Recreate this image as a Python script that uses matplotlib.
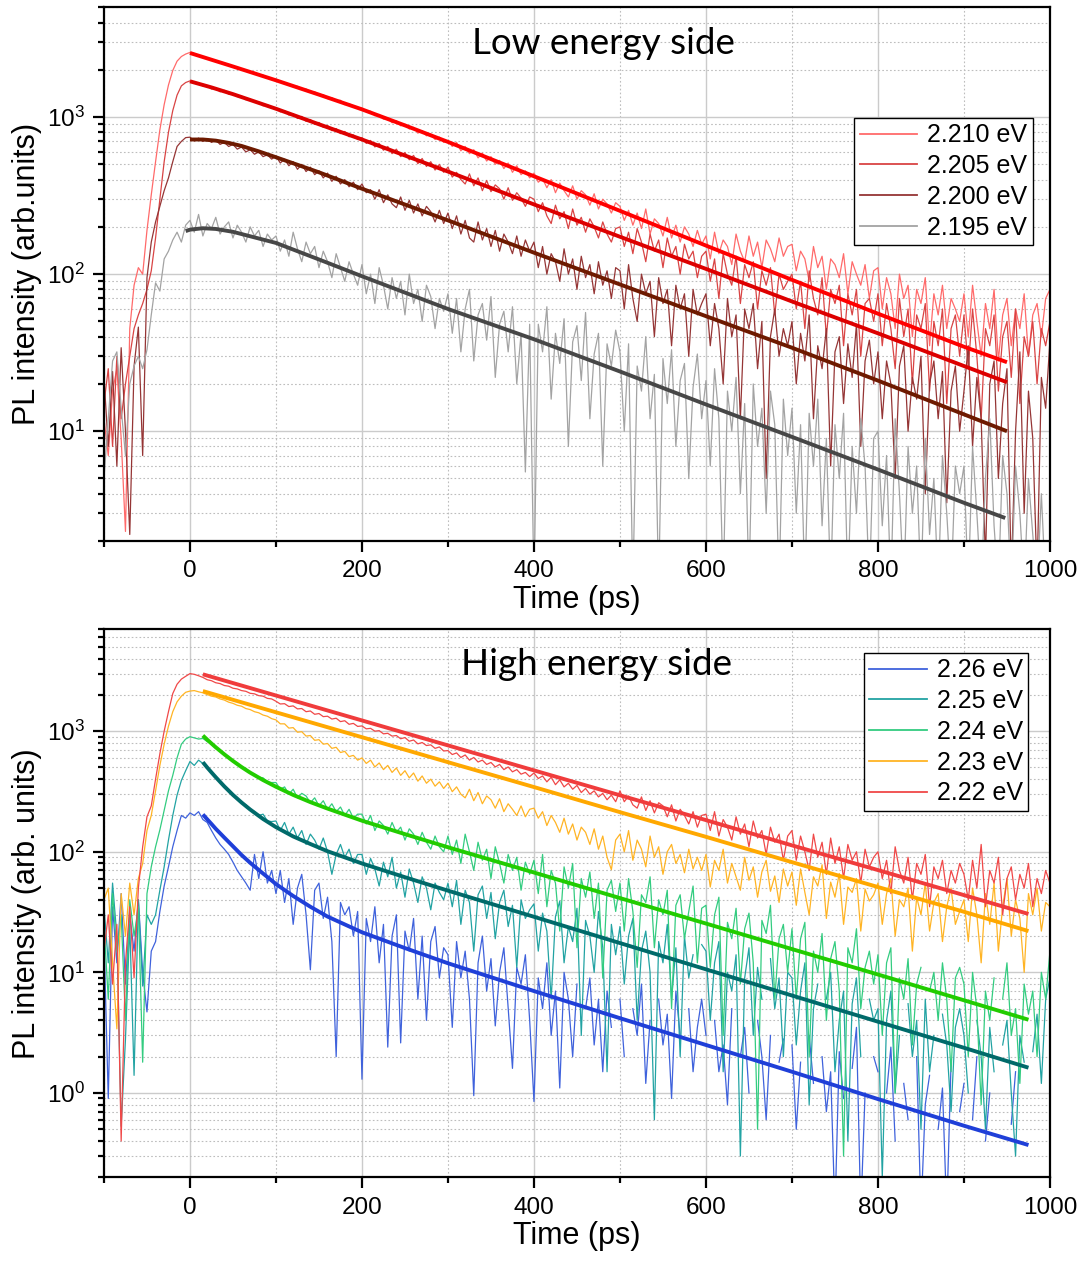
import numpy as np
import matplotlib
matplotlib.use('Agg')
import matplotlib.pyplot as plt
from matplotlib.ticker import MultipleLocator, LogLocator, NullFormatter

plt.rcParams['font.family'] = ['Liberation Sans', 'DejaVu Sans']
plt.rcParams['mathtext.default'] = 'regular'

# time grid of the measured traces (ps), 5 ps per point, -100 ... 1000
t = np.arange(-100, 1001, 5)

# ---------------- low energy side: measured PL traces ----------------
# one row = 100 ps (20 points), last value is t = 1000 ps
pl_2210 = [
    12, 7, 18, 25, 9, 2.3, 45, 85, 110, 100, 190, 320, 520, 830, 1200, 1600, 1980, 2270, 2430, 2520,
    2580, 2540, 2470, 2430, 2350, 2340, 2260, 2250, 2170, 2170, 2090, 2080, 2000, 2000, 1920, 1930, 1850, 1850, 1790, 1760,
    1740, 1690, 1660, 1620, 1560, 1570, 1500, 1510, 1440, 1450, 1380, 1390, 1310, 1330, 1270, 1280, 1200, 1220, 1160, 1150,
    1140, 1080, 1090, 1020, 1040, 970, 990, 920, 950, 880, 900, 840, 860, 790, 820, 760, 780, 720, 745, 690,
    710, 650, 690, 610, 650, 585, 620, 550, 590, 525, 560, 500, 530, 470, 510, 445, 490, 430, 455, 410,
    440, 385, 405, 355, 400, 330, 380, 340, 310, 365, 300, 340, 320, 275, 325, 260, 300, 280, 245, 285,
    270, 220, 255, 205, 245, 195, 260, 180, 225, 210, 175, 230, 170, 205, 160, 200, 180, 150, 190, 155,
    175, 125, 185, 135, 165, 150, 115, 180, 140, 120, 175, 130, 160, 110, 165, 145, 120, 170, 130, 150,
    155, 105, 140, 125, 90, 150, 110, 130, 80, 125, 115, 95, 135, 75, 120, 100, 85, 115, 70, 105,
    110, 60, 95, 75, 45, 100, 70, 85, 40, 80, 65, 95, 35, 75, 55, 85, 45, 70, 60, 50,
    75, 40, 85, 50, 30, 65, 45, 80, 28, 55, 70, 35, 60, 45, 75, 30, 55, 65, 40, 70,
    80]
pl_2205 = [
    15, 25, 8, 30, 12, 20, 30, 45, 55, 65, 80, 105, 170, 300, 520, 800, 1100, 1380, 1580, 1660,
    1700, 1670, 1640, 1580, 1590, 1510, 1530, 1450, 1480, 1400, 1410, 1350, 1360, 1290, 1300, 1240, 1250, 1180, 1200, 1140,
    1150, 1080, 1100, 1030, 1050, 980, 1010, 940, 965, 900, 925, 860, 885, 820, 845, 785, 810, 750, 770, 720,
    740, 680, 710, 645, 680, 615, 650, 585, 625, 560, 595, 535, 570, 505, 545, 485, 520, 460, 500, 445,
    480, 415, 445, 400, 375, 435, 365, 410, 340, 395, 335, 370, 350, 300, 355, 295, 330, 305, 270, 310,
    300, 250, 285, 235, 210, 275, 225, 250, 195, 260, 205, 230, 185, 225, 200, 170, 215, 180, 160, 195,
    200, 150, 185, 135, 195, 160, 120, 180, 140, 165, 110, 170, 130, 150, 100, 155, 125, 140, 95, 130,
    140, 90, 125, 70, 135, 100, 85, 130, 65, 115, 95, 120, 60, 105, 85, 110, 55, 100, 80, 90,
    100, 60, 90, 45, 105, 70, 55, 95, 40, 80, 65, 85, 35, 75, 55, 80, 30, 65, 70, 50,
    75, 35, 65, 45, 25, 70, 40, 60, 20, 55, 45, 65, 18, 50, 35, 60, 15, 45, 55, 30,
    55, 25, 60, 30, 12, 45, 35, 55, 18, 40, 50, 22, 60, 15, 40, 30, 50, 20, 45, 35,
    50]
pl_2200 = [
    22, 8, 24, 6, 34, 10, 2.2, 26, 46, 7, 95, 160, 215, 270, 340, 410, 520, 650, 700, 740,
    745, 705, 735, 700, 730, 690, 715, 670, 690, 650, 670, 625, 645, 600, 620, 580, 600, 560, 575, 540,
    565, 510, 540, 490, 520, 465, 500, 450, 480, 430, 455, 410, 440, 390, 420, 375, 400, 360, 385, 345,
    375, 330, 345, 300, 345, 285, 320, 280, 265, 310, 255, 295, 245, 280, 235, 270, 250, 215, 255, 210,
    245, 195, 235, 180, 220, 170, 160, 215, 165, 195, 150, 190, 140, 180, 160, 135, 175, 130, 165, 140,
    160, 110, 150, 100, 135, 120, 90, 145, 100, 125, 80, 130, 95, 115, 75, 120, 85, 105, 70, 110,
    105, 60, 115, 70, 50, 100, 75, 90, 40, 95, 65, 80, 35, 85, 60, 75, 30, 80, 55, 65,
    75, 35, 65, 45, 20, 70, 40, 55, 12, 60, 45, 65, 25, 50, 5, 40, 60, 30, 45, 35,
    50, 20, 42, 28, 55, 12, 35, 25, 45, 6, 32, 40, 15, 36, 22, 48, 8, 28, 38, 20,
    32, 12, 28, 20, 5, 26, 35, 10, 22, 16, 30, 4, 20, 28, 12, 24, 3.5, 18, 26, 10,
    18, 35, 8, 22, 12, 1.5, 20, 28, 5, 15, 25, 1.2, 10, 32, 3, 18, 9, 1.2, 22, 14,
    38]
pl_2195 = [
    5, 12, 28, 32, 14, 7, 20, 26, 30, 25, 33, 55, 88, 78, 125, 140, 165, 185, 160, 205,
    220, 185, 240, 175, 210, 195, 230, 180, 200, 215, 170, 205, 185, 160, 200, 175, 190, 150, 180, 165,
    175, 140, 165, 130, 185, 145, 120, 160, 135, 150, 110, 140, 120, 95, 135, 110, 90, 120, 100, 85,
    115, 75, 100, 65, 110, 85, 60, 95, 70, 90, 55, 100, 65, 80, 50, 85, 72, 45, 70, 58,
    75, 42, 70, 32, 60, 80, 28, 55, 65, 38, 72, 22, 48, 58, 32, 62, 20, 42, 5.5, 48,
    1, 48, 32, 62, 16, 42, 27, 52, 8, 37, 47, 21, 57, 12, 31, 42, 6, 36, 26, 44,
    32, 10, 36, 1, 26, 18, 40, 12, 23, 1, 29, 15, 33, 8, 21, 27, 5, 19, 31, 12,
    21, 6, 25, 12, 1, 18, 10, 22, 4, 15, 1, 20, 8, 14, 3, 18, 11, 1, 16, 7,
    14, 3, 11, 1, 13, 6, 16, 2.5, 9, 1, 11, 5, 13, 1, 8, 3, 12, 6, 1, 9,
    10, 2.5, 7, 1, 12, 4, 1, 8, 3, 6, 1, 9, 2.2, 5, 1, 7, 3, 1, 6, 4,
    6, 1, 8, 3, 1, 5, 12, 2.5, 1, 7, 4, 1, 6, 3, 1, 5, 2.2, 1, 4, 1,
    1]

# fitted decays (low energy side)
fit_t_2210 = [0, 50, 100, 150, 200, 250, 300, 400, 500, 600, 700, 800, 900, 950]
fit_2210 = [2560, 2100, 1715, 1390, 1120, 885, 695, 420, 253, 152, 92, 56, 34.5, 27.5]
fit_t_2205 = [0, 25, 50, 100, 150, 200, 300, 400, 500, 600, 700, 800, 900, 950]
fit_2205 = [1690, 1545, 1400, 1130, 900, 720, 450, 278, 173, 108, 67, 42, 26, 20.5]
fit_t_2200 = [0, 15, 30, 45, 60, 80, 100, 150, 200, 300, 400, 500, 600, 700, 800, 900, 950]
fit_2200 = [720, 720, 708, 685, 655, 605, 555, 445, 350, 220, 137, 86, 54, 34, 21, 12.8, 10]
fit_t_2195 = [-5, 0, 15, 30, 50, 100, 150, 200, 300, 400, 500, 600, 700, 800, 900, 948]
fit_2195 = [188, 192, 196, 194, 186, 158, 124, 97, 60, 38.5, 24, 14.8, 9.2, 5.7, 3.5, 2.8]

# ---------------- high energy side: measured PL traces ----------------
pl_226 = [
    20, 0.9, 35, 12, 45, 8, 30, 15, 40, 10, 4.7, 15, 18, 32, 52, 75, 110, 150, 200, 190,
    210, 200, 215, 185, 175, 150, 130, 115, 105, 95, 82, 70, 62, 55, 48, 95, 60, 100, 55, 70,
    45, 70, 38, 60, 25, 50, 65, 30, 10.5, 48, 55, 28, 42, 18, 2, 38, 30, 35, 20, 32,
    1.3, 28, 18, 35, 12, 25, 2.4, 20, 30, 2.6, 22, 15, 28, 6, 20, 4, 18, 24, 9, 16,
    14, 3.5, 18, 9, 15, 6, 0.95, 12, 20, 7, 13, 3.6, 10, 16, 5, 1.6, 11, 8, 14, 4,
    0.85, 9, 5, 12, 3, 7, 1.1, 10, 6, 2, 8, 0, 5, 9, 2.5, 6, 1.5, 7, 3.5, 0,
    6, 2, 0, 5, 3, 8, 1.2, 4, 0, 6, 2.5, 4.5, 0.9, 7, 3, 0, 5, 1.5, 3.5, 6,
    3, 0, 4, 1.5, 2.5, 0.8, 5, 0, 2, 3.5, 1, 0, 4, 2, 0.6, 3, 0, 1.8, 2.8, 0,
    2.5, 0.5, 1.8, 0, 3, 1.2, 0, 2, 0.7, 1.5, 0.1, 2.2, 0.9, 0, 1.6, 3.5, 0.1, 1, 0, 2,
    1.5, 0, 1, 2.4, 0.4, 0, 1.2, 0.6, 0, 2, 0.1, 0.8, 1.4, 0, 0.5, 1.1, 0.1, 1.8, 0, 0.7,
    1.2, 0, 0.6, 2, 0, 0.4, 1, 0, 0, 0.8, 0, 0.55, 1.5, 0, 0, 0.6, 0, 1.2, 0, 0,
    0]
pl_225 = [
    35, 12, 55, 20, 0.53, 2.8, 25, 1.4, 40, 7.7, 30, 25, 30, 48, 75, 125, 200, 295, 390, 470,
    560, 520, 575, 540, 500, 450, 415, 380, 350, 330, 300, 280, 255, 245, 225, 215, 200, 205, 180, 178,
    180, 150, 175, 140, 160, 130, 150, 115, 140, 125, 105, 130, 100, 65, 95, 115, 90, 105, 80, 95,
    95, 65, 88, 72, 52, 82, 62, 90, 50, 68, 42, 72, 55, 38, 62, 50, 33, 55, 46, 40,
    55, 35, 58, 25, 48, 38, 15, 44, 52, 28, 46, 19, 38, 48, 24, 36, 11, 40, 28, 33,
    37, 15, 31, 22, 6, 29, 39, 12, 24, 18, 34, 3, 27, 20, 10, 32, 16, 1.5, 25, 14,
    24, 8, 20, 28, 4, 15, 22, 10, 0.6, 18, 12, 25, 6, 16, 2, 20, 9, 14, 0, 17,
    15, 4, 12, 18, 1.5, 10, 7, 14, 0.3, 9, 16, 3, 11, 6, 0, 13, 5, 9, 2, 10,
    9, 2.5, 7, 12, 0.8, 5, 8, 0, 6, 10, 1.5, 4, 7, 0.4, 5.5, 9, 2, 0, 6, 4,
    5, 0.2, 4, 7, 1, 3, 0, 5.5, 2, 4, 0.5, 6, 1.5, 3, 0, 4.5, 2.5, 0.7, 3.5, 5,
    3, 1, 0, 4, 2, 0.5, 3.5, 1.5, 0, 2.5, 4, 1, 0.3, 3, 1.8, 0, 2.2, 4.5, 1.2, 6,
    9]
pl_224 = [
    25, 6, 45, 15, 30, 4, 40, 20, 35, 1.8, 45, 75, 110, 152, 220, 320, 430, 600, 780, 860,
    900, 880, 860, 870, 820, 780, 720, 690, 640, 615, 570, 545, 500, 490, 450, 440, 415, 410, 380, 375,
    375, 330, 345, 300, 330, 280, 305, 290, 255, 280, 240, 265, 225, 250, 215, 235, 200, 225, 190, 205,
    205, 170, 200, 150, 180, 165, 140, 175, 145, 160, 125, 155, 140, 115, 145, 120, 105, 135, 110, 100,
    135, 95, 125, 80, 140, 100, 70, 120, 85, 105, 60, 110, 80, 55, 95, 70, 90, 48, 82, 65,
    85, 45, 95, 35, 70, 55, 22, 75, 50, 80, 16, 60, 42, 68, 28, 55, 9, 48, 58, 32,
    55, 22, 60, 32, 11, 44, 38, 62, 16, 40, 30, 48, 5, 36, 44, 19, 32, 52, 12, 34,
    36, 11, 30, 42, 3, 26, 19, 34, 8, 23, 31, 12, 0.5, 27, 21, 36, 6, 19, 25, 10,
    23, 6, 19, 26, 2, 15, 10, 21, 4, 13, 18, 7, 0.3, 16, 12, 23, 5, 11, 15, 8,
    14, 3, 12, 16, 1, 9, 6, 13, 2.5, 8, 11, 0, 7, 10, 4, 12, 6, 1.5, 9, 11,
    8, 2, 10, 5, 0.8, 7, 4, 9, 0, 6, 12, 3, 5, 1.2, 8, 4.5, 7, 2, 10, 6,
    15]
pl_223 = [
    40, 50, 12, 3.4, 45, 20, 55, 30, 60, 80, 150, 200, 320, 520, 780, 1100, 1450, 1750, 1950, 2100,
    2150, 2170, 2120, 2080, 2010, 1950, 1920, 1850, 1810, 1740, 1700, 1640, 1610, 1540, 1510, 1450, 1420, 1360, 1330, 1270,
    1240, 1150, 1150, 1060, 1070, 980, 990, 910, 920, 840, 850, 780, 790, 720, 735, 665, 680, 615, 630, 575,
    600, 540, 575, 505, 545, 480, 520, 455, 495, 430, 470, 410, 450, 385, 425, 370, 400, 350, 380, 335,
    370, 315, 345, 300, 280, 330, 265, 310, 250, 290, 270, 230, 275, 215, 250, 225, 200, 240, 195, 225,
    230, 190, 215, 165, 200, 175, 145, 190, 140, 170, 125, 160, 145, 115, 155, 105, 135, 90, 71, 125,
    140, 100, 150, 85, 125, 105, 75, 135, 90, 110, 65, 100, 115, 80, 95, 67, 105, 72, 90, 70,
    95, 51, 85, 70, 105, 55, 80, 62, 48, 90, 58, 75, 42, 68, 85, 47, 63, 38, 72, 52,
    68, 36, 72, 46, 30, 62, 52, 78, 28, 56, 42, 66, 25, 51, 46, 60, 22, 49, 39, 44,
    55, 25, 45, 60, 20, 40, 35, 50, 15, 42, 30, 55, 22, 38, 45, 18, 35, 50, 25, 32,
    40, 18, 50, 30, 12, 45, 25, 55, 15, 35, 60, 20, 40, 28, 10, 45, 30, 50, 22, 38,
    35]
pl_222 = [
    15, 30, 8, 25, 0.4, 12, 35, 9, 50, 110, 195, 240, 400, 650, 1000, 1450, 2050, 2450, 2700, 2850,
    3000, 2960, 2880, 2790, 2670, 2620, 2520, 2480, 2390, 2360, 2270, 2240, 2170, 2140, 2060, 2040, 1970, 1950, 1870, 1850,
    1770, 1680, 1690, 1600, 1620, 1530, 1540, 1450, 1470, 1380, 1400, 1320, 1330, 1260, 1280, 1200, 1220, 1140, 1160, 1095,
    1105, 1045, 1055, 1000, 1010, 950, 960, 910, 920, 865, 885, 825, 845, 785, 805, 760, 770, 720, 740, 685,
    690, 640, 660, 605, 635, 575, 605, 555, 575, 530, 550, 505, 530, 480, 505, 460, 480, 440, 455, 420,
    450, 405, 425, 380, 415, 360, 395, 345, 370, 330, 355, 310, 335, 300, 320, 285, 305, 270, 295, 260,
    320, 260, 290, 245, 230, 285, 220, 265, 210, 255, 240, 195, 245, 180, 225, 200, 170, 215, 160, 200,
    205, 150, 215, 135, 185, 160, 125, 195, 140, 170, 110, 180, 130, 150, 95, 160, 120, 140, 85, 135,
    150, 85, 135, 100, 70, 140, 90, 120, 65, 130, 80, 110, 60, 115, 85, 100, 55, 105, 75, 90,
    100, 60, 85, 45, 110, 70, 55, 90, 40, 80, 65, 95, 35, 75, 60, 85, 45, 70, 55, 80,
    65, 40, 85, 50, 115, 35, 70, 55, 90, 30, 60, 75, 40, 65, 50, 80, 35, 60, 45, 70,
    55]

# fitted decays (high energy side)
fit_t_222 = [15, 100, 200, 300, 400, 500, 600, 700, 800, 900, 975]
fit_222 = [2960, 1975, 1227, 762, 473, 294, 183, 113, 70.5, 43.7, 30.5]
fit_t_223 = [15, 100, 200, 300, 400, 500, 600, 700, 800, 900, 975]
fit_223 = [2150, 1434, 891, 553, 344, 213, 133, 82, 51, 31.8, 22]
fit_t_224 = [15, 20, 25, 30, 40, 50, 60, 70, 85, 100, 120, 140, 160, 200, 250, 300, 400, 500, 600, 700, 800, 900, 975]
fit_224 = [920, 851, 790, 735, 642, 566, 504, 453, 393, 346, 296, 258, 228, 181, 140, 109, 67.3, 41.3, 25.4, 15.6, 9.6, 5.87, 4.05]
fit_t_225 = [15, 20, 25, 30, 40, 50, 60, 70, 85, 100, 120, 140, 160, 200, 250, 300, 400, 500, 600, 700, 800, 900, 975]
fit_225 = [553, 500, 455, 415, 348, 296, 256, 224, 187, 160, 134, 116, 101, 80, 61.5, 47.6, 28.9, 17.5, 10.6, 6.43, 3.9, 2.37, 1.62]
fit_t_226 = [15, 20, 25, 30, 40, 50, 60, 70, 85, 100, 120, 140, 160, 200, 250, 300, 400, 500, 600, 700, 800, 900, 975]
fit_226 = [204, 186, 170, 155, 131, 111, 94, 81, 66, 54, 43, 35, 29, 21.5, 15.9, 11.9, 7.0, 4.17, 2.5, 1.5, 0.89, 0.535, 0.37]


def style_axes(ax, ylo, yhi, ylabel):
    ax.set_yscale('log', nonpositive='mask')
    ax.set_xlim(-100, 1000)
    ax.set_ylim(ylo, yhi)
    ax.xaxis.set_major_locator(MultipleLocator(200))
    ax.xaxis.set_minor_locator(MultipleLocator(100))
    ax.yaxis.set_major_locator(LogLocator(base=10))
    ax.yaxis.set_minor_locator(LogLocator(base=10, subs=np.arange(2, 10)))
    ax.yaxis.set_minor_formatter(NullFormatter())
    ax.grid(True, which='major', color='#cbcbcb', lw=1.0, ls='-')
    ax.grid(True, which='minor', color='#bdbdbd', lw=0.8, ls=(0, (1.5, 2.0)))
    ax.set_axisbelow(True)
    ax.tick_params(which='both', direction='out', width=1.6, labelsize=17.5,
                   top=False, right=False)
    ax.tick_params(which='major', length=8, pad=6)
    ax.tick_params(which='minor', length=4.5)
    for sp in ax.spines.values():
        sp.set_linewidth(1.6)
    ax.set_xlabel('Time (ps)', fontsize=22, labelpad=2)
    ax.set_ylabel(ylabel, fontsize=22, labelpad=3)


def add_legend(ax, handles, anchor):
    leg = ax.legend(handles=handles, loc='upper right', bbox_to_anchor=anchor,
                    fontsize=18, fancybox=False, edgecolor='black', framealpha=1,
                    borderaxespad=0, handlelength=2.3, handletextpad=0.4,
                    labelspacing=0.27, borderpad=0.22)
    leg.get_frame().set_linewidth(1.0)
    for ln in leg.get_lines():
        ln.set_linewidth(1.3)
    return leg


fig = plt.figure(figsize=(10.83, 12.61), dpi=100)
ax1 = fig.add_axes([0.0960, 0.5710, 0.8735, 0.4232])
ax2 = fig.add_axes([0.0960, 0.0664, 0.8735, 0.4346])

lw_d = 0.9
lw_f = 2.8

# ---- top panel
style_axes(ax1, 2, 5000, 'PL intensity (arb.units)')
h1 = ax1.plot(t, pl_2210, color='#ff6a6a', lw=lw_d, label='2.210 eV')[0]
h2 = ax1.plot(t, pl_2205, color='#d94444', lw=lw_d, label='2.205 eV')[0]
h3 = ax1.plot(t, pl_2200, color='#953535', lw=lw_d, label='2.200 eV')[0]
h4 = ax1.plot(t, pl_2195, color='#a3a3a3', lw=lw_d, label='2.195 eV')[0]
ax1.plot(fit_t_2210, fit_2210, color='#ff0000', lw=lw_f, solid_capstyle='butt')
ax1.plot(fit_t_2205, fit_2205, color='#dd0000', lw=lw_f, solid_capstyle='butt')
ax1.plot(fit_t_2200, fit_2200, color='#6e1a00', lw=lw_f, solid_capstyle='butt')
ax1.plot(fit_t_2195, fit_2195, color='#474747', lw=lw_f, solid_capstyle='butt')
add_legend(ax1, [h1, h2, h3, h4], (0.982, 0.7926))
ax1.text(0.5275, 0.9125, 'Low energy side', transform=ax1.transAxes, ha='center',
         va='baseline', fontsize=26.5, family=['Lato', 'DejaVu Sans'])

# ---- bottom panel
style_axes(ax2, 0.2, 7000, 'PL intensity (arb. units)')
g1 = ax2.plot(t, pl_226, color='#3f62dc', lw=lw_d, label='2.26 eV')[0]
g2 = ax2.plot(t, pl_225, color='#22a3a3', lw=lw_d, label='2.25 eV')[0]
g3 = ax2.plot(t, pl_224, color='#33cc80', lw=lw_d, label='2.24 eV')[0]
g4 = ax2.plot(t, pl_223, color='#ffb424', lw=lw_d, label='2.23 eV')[0]
g5 = ax2.plot(t, pl_222, color='#f04848', lw=lw_d, label='2.22 eV')[0]
ax2.plot(fit_t_226, fit_226, color='#1f3fd8', lw=lw_f, solid_capstyle='butt')
ax2.plot(fit_t_225, fit_225, color='#006a6a', lw=lw_f, solid_capstyle='butt')
ax2.plot(fit_t_224, fit_224, color='#22cc00', lw=lw_f, solid_capstyle='butt')
ax2.plot(fit_t_223, fit_223, color='#ffa800', lw=lw_f, solid_capstyle='butt')
ax2.plot(fit_t_222, fit_222, color='#f03c3c', lw=lw_f, solid_capstyle='butt')
add_legend(ax2, [g1, g2, g3, g4, g5], (0.977, 0.957))
ax2.text(0.521, 0.9166, 'High energy side', transform=ax2.transAxes, ha='center',
         va='baseline', fontsize=26.5, family=['Lato', 'DejaVu Sans'])

fig.savefig('out.png', dpi=100)
